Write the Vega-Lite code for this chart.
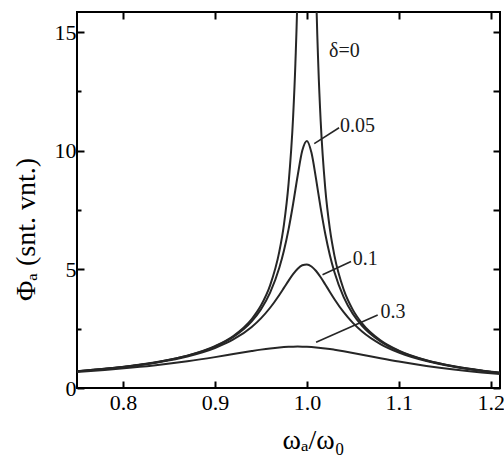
{
  "$schema": "https://vega.github.io/schema/vega-lite/v6.json",
  "width": 423,
  "height": 376,
  "autosize": "none",
  "padding": {"left": 77, "top": 12, "right": 4, "bottom": 71},
  "background": "white",
  "config": {
    "view": {"stroke": "black", "strokeWidth": 2},
    "font": "Liberation Serif"
  },
  "datasets": {
    "curves": [
      {"d":"0","x":0.75,"y":0.709},{"d":"0","x":0.78,"y":0.809},{"d":"0","x":0.81,"y":0.938},{"d":"0","x":0.84,"y":1.113},{"d":"0","x":0.87,"y":1.365},{"d":"0","x":0.90,"y":1.764},{"d":"0","x":0.92,"y":2.193},{"d":"0","x":0.94,"y":2.906},{"d":"0","x":0.95,"y":3.475},{"d":"0","x":0.96,"y":4.327},{"d":"0","x":0.97,"y":5.747},{"d":"0","x":0.975,"y":6.880},{"d":"0","x":0.98,"y":8.581},{"d":"0","x":0.985,"y":11.416},{"d":"0","x":0.9875,"y":13.69},{"d":"0","x":0.99,"y":17.086},{"d":"0","x":0.995,"y":34.09},{"d":"0","x":1.005,"y":33.92},{"d":"0","x":1.01,"y":16.91},{"d":"0","x":1.0125,"y":13.51},{"d":"0","x":1.015,"y":11.242},{"d":"0","x":1.02,"y":8.406},{"d":"0","x":1.025,"y":6.704},{"d":"0","x":1.03,"y":5.568},{"d":"0","x":1.04,"y":4.148},{"d":"0","x":1.05,"y":3.294},{"d":"0","x":1.06,"y":2.723},{"d":"0","x":1.08,"y":2.007},{"d":"0","x":1.10,"y":1.574},{"d":"0","x":1.13,"y":1.170},{"d":"0","x":1.16,"y":0.914},{"d":"0","x":1.19,"y":0.735},{"d":"0","x":1.21,"y":0.642},
      {"d":"0.05","x":0.75,"y":0.708},{"d":"0.05","x":0.78,"y":0.808},{"d":"0.05","x":0.81,"y":0.936},{"d":"0.05","x":0.84,"y":1.109},{"d":"0.05","x":0.87,"y":1.357},{"d":"0.05","x":0.90,"y":1.744},{"d":"0.05","x":0.92,"y":2.153},{"d":"0.05","x":0.94,"y":2.811},{"d":"0.05","x":0.95,"y":3.313},{"d":"0.05","x":0.96,"y":4.020},{"d":"0.05","x":0.97,"y":5.066},{"d":"0.05","x":0.975,"y":5.784},{"d":"0.05","x":0.98,"y":6.677},{"d":"0.05","x":0.985,"y":7.758},{"d":"0.05","x":0.99,"y":8.959},{"d":"0.05","x":0.995,"y":10.008},{"d":"0.05","x":1.0,"y":10.417},{"d":"0.05","x":1.005,"y":9.913},{"d":"0.05","x":1.01,"y":8.805},{"d":"0.05","x":1.015,"y":7.580},{"d":"0.05","x":1.02,"y":6.490},{"d":"0.05","x":1.025,"y":5.596},{"d":"0.05","x":1.03,"y":4.878},{"d":"0.05","x":1.04,"y":3.833},{"d":"0.05","x":1.05,"y":3.126},{"d":"0.05","x":1.06,"y":2.624},{"d":"0.05","x":1.08,"y":1.965},{"d":"0.05","x":1.10,"y":1.553},{"d":"0.05","x":1.13,"y":1.160},{"d":"0.05","x":1.16,"y":0.909},{"d":"0.05","x":1.19,"y":0.732},{"d":"0.05","x":1.21,"y":0.641},
      {"d":"0.1","x":0.75,"y":0.705},{"d":"0.1","x":0.78,"y":0.803},{"d":"0.1","x":0.81,"y":0.929},{"d":"0.1","x":0.84,"y":1.096},{"d":"0.1","x":0.87,"y":1.331},{"d":"0.1","x":0.90,"y":1.688},{"d":"0.1","x":0.92,"y":2.045},{"d":"0.1","x":0.94,"y":2.574},{"d":"0.1","x":0.95,"y":2.935},{"d":"0.1","x":0.96,"y":3.383},{"d":"0.1","x":0.97,"y":3.923},{"d":"0.1","x":0.975,"y":4.219},{"d":"0.1","x":0.98,"y":4.518},{"d":"0.1","x":0.985,"y":4.798},{"d":"0.1","x":0.99,"y":5.028},{"d":"0.1","x":0.995,"y":5.174},{"d":"0.1","x":1.0,"y":5.208},{"d":"0.1","x":1.005,"y":5.123},{"d":"0.1","x":1.01,"y":4.933},{"d":"0.1","x":1.015,"y":4.668},{"d":"0.1","x":1.02,"y":4.364},{"d":"0.1","x":1.025,"y":4.050},{"d":"0.1","x":1.03,"y":3.743},{"d":"0.1","x":1.04,"y":3.195},{"d":"0.1","x":1.05,"y":2.744},{"d":"0.1","x":1.06,"y":2.382},{"d":"0.1","x":1.08,"y":1.853},{"d":"0.1","x":1.10,"y":1.494},{"d":"0.1","x":1.13,"y":1.134},{"d":"0.1","x":1.16,"y":0.895},{"d":"0.1","x":1.19,"y":0.725},{"d":"0.1","x":1.21,"y":0.635},
      {"d":"0.3","x":0.75,"y":0.678},{"d":"0.3","x":0.78,"y":0.760},{"d":"0.3","x":0.81,"y":0.860},{"d":"0.3","x":0.84,"y":0.980},{"d":"0.3","x":0.87,"y":1.127},{"d":"0.3","x":0.90,"y":1.302},{"d":"0.3","x":0.92,"y":1.430},{"d":"0.3","x":0.94,"y":1.559},{"d":"0.3","x":0.95,"y":1.618},{"d":"0.3","x":0.96,"y":1.669},{"d":"0.3","x":0.97,"y":1.709},{"d":"0.3","x":0.975,"y":1.724},{"d":"0.3","x":0.98,"y":1.735},{"d":"0.3","x":0.985,"y":1.742},{"d":"0.3","x":0.99,"y":1.745},{"d":"0.3","x":0.995,"y":1.743},{"d":"0.3","x":1.0,"y":1.736},{"d":"0.3","x":1.005,"y":1.725},{"d":"0.3","x":1.01,"y":1.710},{"d":"0.3","x":1.015,"y":1.691},{"d":"0.3","x":1.02,"y":1.668},{"d":"0.3","x":1.025,"y":1.642},{"d":"0.3","x":1.03,"y":1.613},{"d":"0.3","x":1.04,"y":1.549},{"d":"0.3","x":1.05,"y":1.478},{"d":"0.3","x":1.06,"y":1.404},{"d":"0.3","x":1.08,"y":1.255},{"d":"0.3","x":1.10,"y":1.114},{"d":"0.3","x":1.13,"y":0.931},{"d":"0.3","x":1.16,"y":0.780},{"d":"0.3","x":1.19,"y":0.656},{"d":"0.3","x":1.21,"y":0.586}
    ],
    "leaders": [
      {"x":1.008,"y":10.30,"x2":1.035,"y2":10.97},
      {"x":1.017,"y":4.77,"x2":1.048,"y2":5.33},
      {"x":1.010,"y":1.93,"x2":1.077,"y2":3.08}
    ],
    "labels": [
      {"x":1.024,"y":14.2,"t":"δ=0"},
      {"x":1.036,"y":11.05,"t":"0.05"},
      {"x":1.050,"y":5.45,"t":"0.1"},
      {"x":1.080,"y":3.2,"t":"0.3"}
    ]
  },
  "layer": [
    {
      "data": {"name": "curves"},
      "mark": {"type": "line", "interpolate": "monotone", "clip": true, "strokeWidth": 2, "color": "#262626"},
      "encoding": {
        "x": {"field": "x", "type": "quantitative",
          "scale": {"domain": [0.75, 1.21], "nice": false, "zero": false},
          "axis": {"orient": "bottom", "values": [0.8, 0.9, 1.0, 1.1, 1.2], "format": ".1f",
            "domain": false, "grid": false, "tickColor": "black", "tickWidth": 2,
            "tickSize": -7, "labelPadding": 11,
            "labelFont": "Liberation Serif", "labelFontSize": 22, "labelColor": "black",
            "title": "ωₐ/ω₀", "titleFont": "Liberation Serif", "titleFontSize": 28, "titleFontWeight": "normal", "titleColor": "black",
            "titleX": 236, "titleY": 60, "titleBaseline": "alphabetic"}},
        "y": {"field": "y", "type": "quantitative",
          "scale": {"domain": [0, 15.85], "nice": false},
          "axis": {"orient": "left", "values": [0, 2.5, 5, 7.5, 10, 12.5, 15], "format": ".0f",
            "domain": false, "grid": false, "tickColor": "black", "tickWidth": 2,
            "labelExpr": "datum.value % 5 === 0 ? datum.label : ''",
            "tickSize": {"condition": {"test": "datum.value % 5 === 0", "value": -7}, "value": -4},
            "labelPadding": 8,
            "labelFont": "Liberation Serif", "labelFontSize": 22, "labelColor": "black",
            "title": "Φₐ (snt. vnt.)", "titleFont": "Liberation Serif", "titleFontSize": 28, "titleFontWeight": "normal", "titleColor": "black",
            "titleX": -43, "titleY": 217, "titleBaseline": "alphabetic"}},
        "detail": {"field": "d"}
      }
    },
    {
      "data": {"name": "leaders"},
      "mark": {"type": "rule", "strokeWidth": 1.6, "color": "#262626"},
      "encoding": {
        "x": {"field": "x", "type": "quantitative",
          "scale": {"domain": [0.75, 1.21], "nice": false, "zero": false},
          "axis": {"orient": "top", "values": [0.8, 0.9, 1.0, 1.1, 1.2], "labels": false, "domain": false, "grid": false, "tickColor": "black", "tickWidth": 2, "tickSize": -7, "title": null}},
        "y": {"field": "y", "type": "quantitative",
          "scale": {"domain": [0, 15.85], "nice": false},
          "axis": {"orient": "right", "values": [0, 2.5, 5, 7.5, 10, 12.5, 15], "labels": false, "domain": false, "grid": false, "tickColor": "black", "tickWidth": 2, "tickSize": -7, "title": null}},
        "x2": {"field": "x2"},
        "y2": {"field": "y2"}
      }
    },
    {
      "data": {"name": "labels"},
      "mark": {"type": "text", "align": "left", "baseline": "middle", "fontSize": 20, "font": "Liberation Serif", "color": "#1a1a1a"},
      "encoding": {
        "x": {"field": "x", "type": "quantitative", "scale": {"domain": [0.75, 1.21], "nice": false, "zero": false}, "axis": null},
        "y": {"field": "y", "type": "quantitative", "scale": {"domain": [0, 15.85], "nice": false}, "axis": null},
        "text": {"field": "t"}
      }
    }
  ],
  "resolve": {"axis": {"x": "independent", "y": "independent"}}
}
